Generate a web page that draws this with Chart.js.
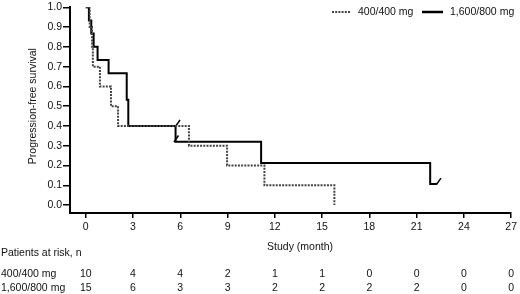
<!DOCTYPE html>
<html>
<head>
<meta charset="utf-8">
<script src="https://cdn.jsdelivr.net/npm/chart.js@4/dist/chart.umd.min.js"></script>
<style>
  html, body { margin: 0; padding: 0; background: #fff; }
  #wrap { width: 520px; height: 294px; }
</style>
</head>
<body>
<div id="wrap"><canvas id="pfsChart" width="520" height="294"></canvas></div>
<script>
// 数据
const seriesNames = ['400/400 mg', '1,600/800 mg'];

// 400/400 mg 曲线 (月, 生存率)
const lowTimes = [0, 0.25, 0.4, 0.45, 0.9, 1.6, 2.05, 6.55, 8.97, 11.34, 15.78];
const lowSurv  = [1.0, 0.9, 0.8, 0.7, 0.6, 0.5, 0.4, 0.3, 0.2, 0.1, 0.0];

// 1,600/800 mg 曲线
const highTimes = [0, 0.2, 0.35, 0.5, 0.75, 1.45, 2.6, 2.7, 5.7, 11.13, 21.86, 22.3];
const highSurv  = [1.0, 0.933, 0.867, 0.8, 0.733, 0.667, 0.533, 0.4, 0.32, 0.213, 0.107, 0.107];

// 删失标记
const censorTimes = [5.84, 5.74, 22.4];
const censorSurv  = [0.414, 0.335, 0.12];

// 坐标轴刻度
const xTicks = [0, 3, 6, 9, 12, 15, 18, 21, 24, 27];
const yTicks = [0, 0.1, 0.2, 0.3, 0.4, 0.5, 0.6, 0.7, 0.8, 0.9, 1.0];

// 风险人数表
const riskLow  = [10, 4, 4, 2, 1, 1, 0, 0, 0, 0];
const riskHigh = [15, 6, 3, 3, 2, 2, 2, 2, 0, 0];

const FONT = '"Liberation Sans", Arial, sans-serif';
const DASH_COLOR = '#444';

function toPoints(xs, ys) {
    return xs.map(function(x, i) { return { x: x, y: ys[i] }; });
}

// 自定义绘制: 图例, 轴标题, 风险表
const extrasPlugin = {
    id: 'extras',
    afterDraw: function(chart) {
        const ctx = chart.ctx;
        const xs = chart.scales.x;
        const area = chart.chartArea;
        ctx.save();
        ctx.fillStyle = '#111';
        ctx.font = '10.5px ' + FONT;
        ctx.textBaseline = 'middle';

        // 图例
        ctx.strokeStyle = DASH_COLOR;
        ctx.lineWidth = 2;
        ctx.setLineDash([2, 1.2]);
        ctx.beginPath(); ctx.moveTo(332, 12); ctx.lineTo(351, 12); ctx.stroke();
        ctx.setLineDash([]);
        ctx.strokeStyle = '#000';
        ctx.lineWidth = 2.5;
        ctx.beginPath(); ctx.moveTo(422, 12); ctx.lineTo(443, 12); ctx.stroke();
        ctx.textAlign = 'left';
        ctx.fillText(seriesNames[0], 358, 12);
        ctx.fillText(seriesNames[1], 450, 12);

        // y 轴标题
        ctx.save();
        ctx.translate(33, (area.top + area.bottom) / 2 - 4);
        ctx.rotate(-Math.PI / 2);
        ctx.textAlign = 'center';
        ctx.fillText('Progression-free survival', 0, 0);
        ctx.restore();

        // x 轴标题
        ctx.textAlign = 'center';
        ctx.fillText('Study (month)', 300, 247);

        // 风险表
        ctx.textAlign = 'left';
        ctx.fillText('Patients at risk, n', 1, 253);
        ctx.fillText(seriesNames[0], 1, 274);
        ctx.fillText(seriesNames[1], 1, 288);
        ctx.textAlign = 'center';
        xTicks.forEach(function(t, i) {
            const px = xs.getPixelForValue(t);
            ctx.fillText(String(riskLow[i]), px, 274);
            ctx.fillText(String(riskHigh[i]), px, 288);
        });
        ctx.restore();
    }
};

function initChart() {
    const ctx = document.getElementById('pfsChart').getContext('2d');
    new Chart(ctx, {
        type: 'line',
        data: {
            datasets: [
                {
                    label: seriesNames[0],
                    data: toPoints(lowTimes, lowSurv),
                    stepped: 'before',
                    borderColor: DASH_COLOR,
                    borderWidth: 2,
                    borderDash: [2, 1.2],
                    pointRadius: 0,
                    fill: false
                },
                {
                    label: seriesNames[1],
                    data: toPoints(highTimes, highSurv),
                    stepped: 'before',
                    borderColor: '#000',
                    borderWidth: 2,
                    pointRadius: 0,
                    fill: false
                },
                {
                    label: 'censor',
                    data: toPoints(censorTimes, censorSurv),
                    showLine: false,
                    pointStyle: 'line',
                    pointRadius: 4,
                    pointRotation: -55,
                    pointBorderColor: '#000',
                    pointBorderWidth: 1.5
                }
            ]
        },
        options: {
            responsive: false,
            animation: false,
            layout: { padding: { top: 6, right: 5, left: 0, bottom: 0 } },
            plugins: {
                legend: { display: false },
                tooltip: { enabled: false }
            },
            scales: {
                x: {
                    type: 'linear',
                    min: -1,
                    max: 27,
                    afterFit: function(scale) { scale.height = 81; },
                    afterBuildTicks: function(scale) {
                        scale.ticks = xTicks.map(function(v) { return { value: v }; });
                    },
                    border: { display: true, color: '#000', width: 2 },
                    grid: { display: true, drawOnChartArea: false, drawTicks: true, tickLength: 5, color: '#000', lineWidth: 1.5 },
                    ticks: {
                        color: '#111',
                        padding: 3,
                        maxRotation: 0,
                        font: { family: FONT, size: 10.5 }
                    }
                },
                y: {
                    min: -0.04,
                    max: 1.0,
                    afterFit: function(scale) { scale.width = 70; },
                    afterBuildTicks: function(scale) {
                        scale.ticks = yTicks.map(function(v) { return { value: v }; });
                    },
                    border: { display: true, color: '#000', width: 2 },
                    grid: { display: true, drawOnChartArea: false, drawTicks: true, tickLength: 7, color: '#000', lineWidth: 1.5 },
                    ticks: {
                        color: '#111',
                        padding: 1,
                        font: { family: FONT, size: 10.5 },
                        callback: function(v) { return Number(v).toFixed(1); }
                    }
                }
            }
        },
        plugins: [extrasPlugin]
    });
}

initChart();
</script>
</body>
</html>
